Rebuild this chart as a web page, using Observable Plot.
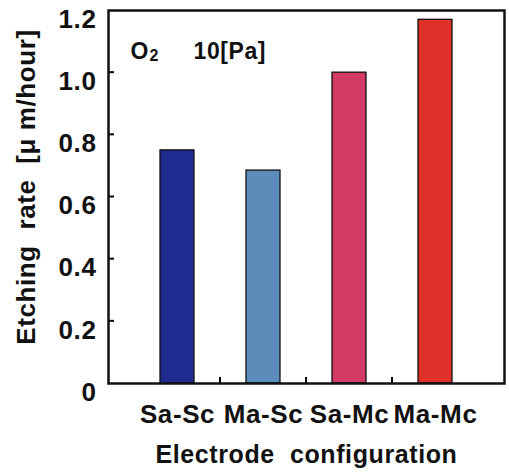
<!DOCTYPE html>
<html>
<head>
<meta charset="utf-8">
<script src="https://cdn.jsdelivr.net/npm/d3@7"></script>
<script src="https://cdn.jsdelivr.net/npm/@observablehq/plot@0.6"></script>
<style>
  html, body { margin: 0; padding: 0; background: #fff; }
  svg text { letter-spacing: 0.6px; white-space: pre; }
</style>
</head>
<body>
<div id="chart"></div>
<script>
const categories = ["Sa-Sc", "Ma-Sc", "Sa-Mc", "Ma-Mc"];
const rates = [0.75, 0.685, 1.0, 1.17];
const barColors = ["#1f2b8e", "#5b8cba", "#d43a66", "#e0302a"];
const yTicks = [0, 0.2, 0.4, 0.6, 0.8, 1.0, 1.2];
const yTickLabels = ["0", "0.2", "0.4", "0.6", "0.8", "1.0", "1.2"];
const yLabel = "Etching  rate  [μ m/hour]";
const xLabel = "Electrode  configuration";
const gasLabel = "O";
const gasSub = "2";
const pressureLabel = "10[Pa]";

const data = categories.map((c, i) => ({cat: c, rate: rates[i]}));

function innerTicks(index, scales, values, dims) {
  const {x, y} = scales;
  const g = d3.create("svg:g").attr("stroke", "black").attr("stroke-width", 2);
  for (const t of yTicks.slice(1, -1)) {
    g.append("line")
      .attr("x1", dims.marginLeft).attr("x2", dims.marginLeft + 6)
      .attr("y1", y(t)).attr("y2", y(t));
  }
  const bottom = dims.height - dims.marginBottom;
  for (let i = 0; i < categories.length - 1; i++) {
    const bx = (x(categories[i]) + x.bandwidth() + x(categories[i + 1])) / 2;
    g.append("line")
      .attr("x1", bx).attr("x2", bx)
      .attr("y1", bottom).attr("y2", bottom - 6);
  }
  return g.node();
}

const chart = Plot.plot({
  width: 509,
  height: 474,
  marginLeft: 108,
  marginRight: 5,
  marginTop: 10,
  marginBottom: 91,
  style: {fontFamily: "'Liberation Sans', Arial, sans-serif", fontWeight: "bold", color: "#111", background: "#fff"},
  x: {domain: categories, padding: 0.6},
  y: {domain: [0, 1.2]},
  color: {domain: categories, range: barColors},
  marks: [
    Plot.barY(data, {x: "cat", y: "rate", fill: "cat", stroke: "#111", strokeWidth: 1.3}),
    Plot.axisY({ticks: yTicks, tickFormat: (d) => yTickLabels[yTicks.indexOf(d)], tickSize: 0, tickPadding: 12, dy: 9, fontSize: 26, fontWeight: "bold", label: null}),
    Plot.axisX({tickSize: 0, tickPadding: 21, fontSize: 26, fontWeight: "bold", label: null}),
    innerTicks,
    Plot.frame({stroke: "#111", strokeWidth: 2.5}),
    Plot.text([yLabel], {frameAnchor: "left", text: d => d, rotate: -90, dx: -74, dy: -10, lineAnchor: "bottom", textAnchor: "middle", fontSize: 26, fontWeight: "bold", fill: "#111"}),
    Plot.text([xLabel], {frameAnchor: "bottom", text: d => d, dy: 79, lineAnchor: "bottom", textAnchor: "middle", fontSize: 25, fontWeight: "bold", fill: "#111"}),
    Plot.text([gasLabel], {frameAnchor: "top-left", text: d => d, dx: 22, dy: 48, lineAnchor: "bottom", textAnchor: "start", fontSize: 23, fontWeight: "bold", fill: "#111"}),
    Plot.text([gasSub], {frameAnchor: "top-left", text: d => d, dx: 41, dy: 50, lineAnchor: "bottom", textAnchor: "start", fontSize: 16, fontWeight: "bold", fill: "#111"}),
    Plot.text([pressureLabel], {frameAnchor: "top-left", text: d => d, dx: 85, dy: 48, lineAnchor: "bottom", textAnchor: "start", fontSize: 23, fontWeight: "bold", fill: "#111"})
  ]
});
document.getElementById("chart").appendChild(chart);
</script>
</body>
</html>
